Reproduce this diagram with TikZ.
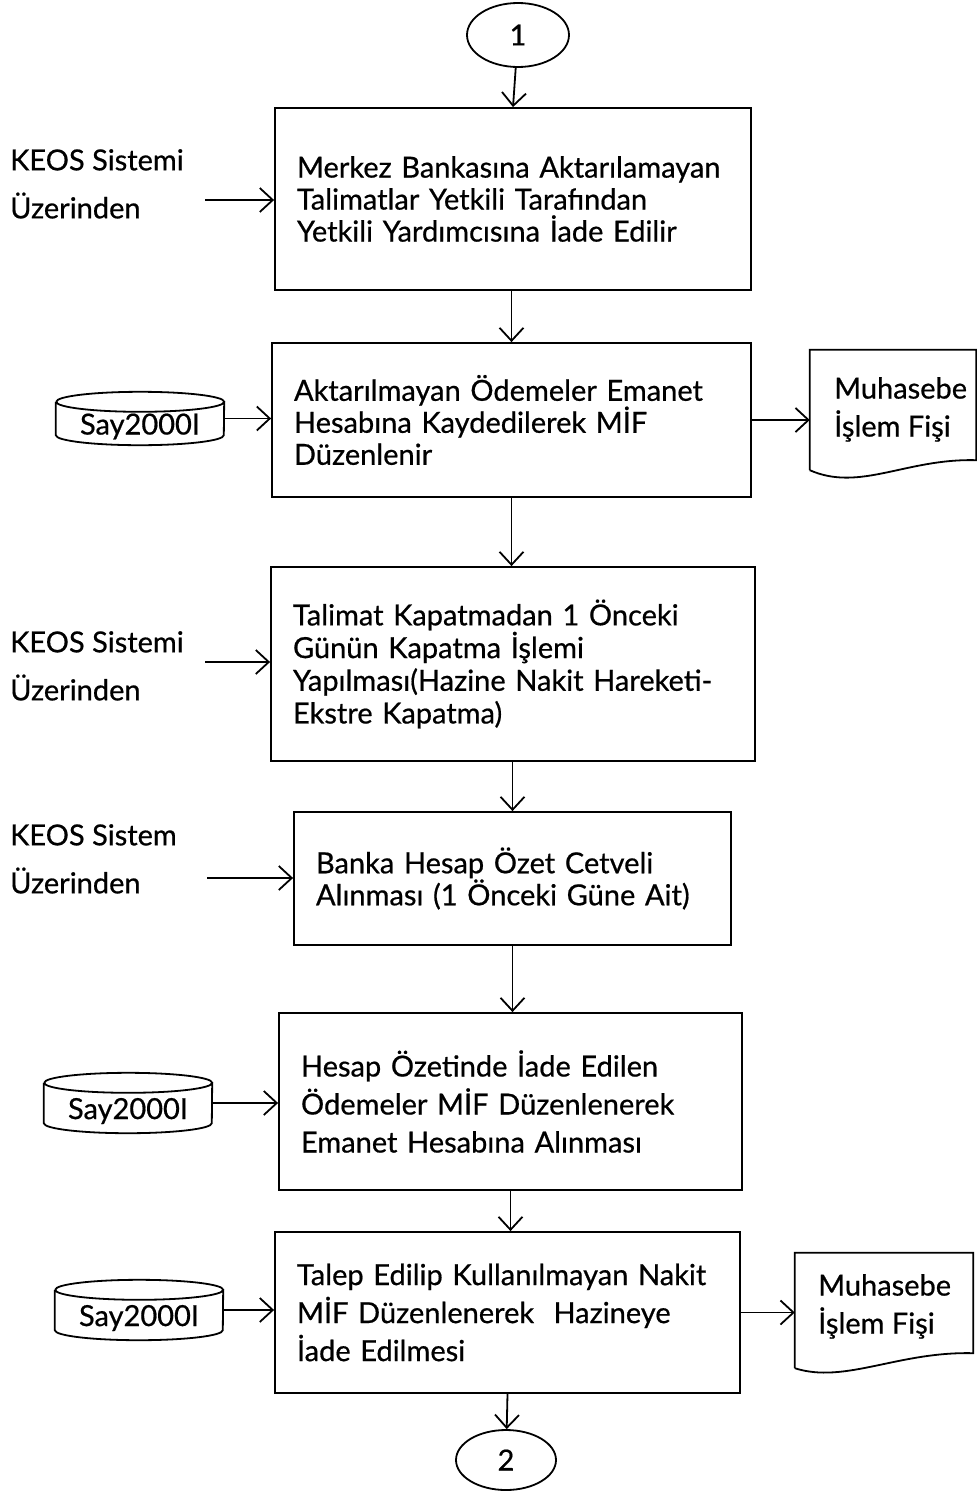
\documentclass[tikz,border=0pt]{standalone}
\usepackage{fontspec}
\setmainfont{Lato}[FakeBold=0.6]
\usetikzlibrary{arrows.meta,shapes.geometric}
\tikzset{
  arr/.style={line width=1.8pt,-{Straight Barb[length=13pt,width=24pt]}},
  boxs/.style={draw,line width=1.8pt,rectangle,inner xsep=22pt,inner ysep=0pt,align=left,font=\fontsize{29}{32}\selectfont},
  lbl/.style={anchor=north west,inner sep=0pt,align=left,font=\fontsize{29}{48}\selectfont},
  circ/.style={draw,ellipse,line width=1.8pt,inner sep=0pt,font=\fontsize{29}{30}\selectfont},
  cyls/.style={inner sep=0pt,minimum width=168pt,font=\fontsize{29}{30}\selectfont},
  docs/.style={inner sep=0pt,font=\fontsize{29}{38}\selectfont},
  shp/.style={line width=1.8pt}
}
\newcommand{\cylshape}[1]{%
  \draw[shp] ([yshift=-10pt]#1.north west) -- ([yshift=10pt]#1.south west)
    arc[start angle=180,end angle=360,x radius=84pt,y radius=10pt]
    -- ([yshift=-10pt]#1.north east)
    arc[start angle=0,end angle=180,x radius=84pt,y radius=10pt]
    arc[start angle=180,end angle=-180,x radius=84pt,y radius=10pt];
}
\begin{document}
\begin{tikzpicture}[x=1pt,y=-1pt]
\useasboundingbox (0,0) rectangle (977,1491);
% connector circles
\node[circ,minimum width=102pt,minimum height=64pt] (c1) at (518,35) {1};
\node[circ,minimum width=100pt,minimum height=60pt] (c2) at (506,1460) {2};
% boxes
\node[boxs,minimum width=476pt,text width=432pt,minimum height=182pt] (b1) at (513,199)
  {Merkez Bankasına Aktarılamayan\\Talimatlar Yetkili Tarafından\\Yetkili Yardımcısına İade Edilir};
\node[boxs,minimum width=479pt,text width=435pt,minimum height=154pt] (b2) at (511.5,420)
  {Aktarılmayan Ödemeler Emanet\\Hesabına Kaydedilerek MİF\\Düzenlenir};
\node[boxs,minimum width=484pt,text width=440pt,minimum height=194pt,font=\fontsize{29}{32.7}\selectfont] (b3) at (513,664)
  {Talimat Kapatmadan 1 Önceki\\Günün Kapatma İşlemi\\Yapılması(Hazine Nakit Hareketi-\\Ekstre Kapatma)};
\node[boxs,minimum width=437pt,text width=393pt,minimum height=133pt] (b4) at (512.5,878.5)
  {Banka Hesap Özet Cetveli\\Alınması (1 Önceki Güne Ait)};
\node[boxs,minimum width=463pt,text width=419pt,minimum height=177pt,font=\fontsize{29}{38}\selectfont] (b5) at (510.5,1101.5)
  {Hesap Özetinde İade Edilen\\Ödemeler MİF Düzenlenerek\\Emanet Hesabına Alınması};
\node[boxs,minimum width=465pt,text width=421pt,minimum height=161pt,font=\fontsize{29}{38}\selectfont] (b6) at (507.5,1312.5)
  {Talep Edilip Kullanılmayan Nakit\\MİF Düzenlenerek\ \ Hazineye\\İade Edilmesi};
% left labels
\node[lbl] (k1) at (10,149) {KEOS Sistemi\\Üzerinden};
\node[lbl] (k2) at (10,631) {KEOS Sistemi\\Üzerinden};
\node[lbl] (k3) at (10,824) {KEOS Sistem\\Üzerinden};
\coordinate (k1e) at (205,200);
\coordinate (k2e) at (205,662);
\coordinate (k3e) at (207,878);
% cylinders
\node[cyls,minimum height=53pt] (y1) at (140,418.5) {};
\node[cyls,minimum height=60pt] (y2) at (128,1103) {};
\node[cyls,minimum height=60pt] (y3) at (139,1310) {};
\cylshape{y1}
\cylshape{y2}
\cylshape{y3}
\node[font=\fontsize{29}{30}\selectfont,inner sep=0pt] (t1) at ([yshift=-8pt]y1.center) {Say2000I};
\node[font=\fontsize{29}{30}\selectfont,inner sep=0pt] (t2) at ([yshift=-8pt]y2.center) {Say2000I};
\node[font=\fontsize{29}{30}\selectfont,inner sep=0pt] (t3) at ([yshift=-8pt]y3.center) {Say2000I};
% documents
\node[docs,minimum width=166pt,minimum height=128pt] (d1) at (893,414) {};
\node[docs,minimum width=178pt,minimum height=119pt] (d2) at (884,1312.5) {};
\draw[shp] ([yshift=8pt]d1.south west) -- (d1.north west) -- (d1.north east) -- ([yshift=18pt]d1.south east)
  .. controls ([xshift=-70pt,yshift=20pt]d1.south east) and ([xshift=50pt,yshift=-14pt]d1.south west) .. ([yshift=8pt]d1.south west);
\draw[shp] ([yshift=4pt]d2.south west) -- (d2.north west) -- (d2.north east) -- ([yshift=19pt]d2.south east)
  .. controls ([xshift=-75pt,yshift=21pt]d2.south east) and ([xshift=50pt,yshift=-12pt]d2.south west) .. ([yshift=4pt]d2.south west);
\node[docs,anchor=north west,align=left] (dt1) at (834,377) {Muhasebe\\İşlem Fişi};
\node[docs,anchor=north west,align=left] (dt2) at (818,1274) {Muhasebe\\İşlem Fişi};
% connectors
\draw[arr] (c1) -- (b1.north);
\draw[arr] (b2.north |- b1.south) -- (b2.north);
\draw[arr] (b2.south) -- (b2.south |- b3.north);
\draw[arr] (b4.north |- b3.south) -- (b4.north);
\draw[arr] (b4.south) -- (b4.south |- b5.north);
\draw[arr] (b5.south) -- (b5.south |- b6.north);
\draw[arr] (b6.south) -- (c2);
\draw[arr] (k1e) -- (k1e -| b1.west);
\draw[arr] (k2e) -- (k2e -| b3.west);
\draw[arr] (k3e) -- (k3e -| b4.west);
\draw[arr] (y1.east) -- (y1.east -| b2.west);
\draw[arr] (y2.east) -- (y2.east -| b5.west);
\draw[arr] (y3.east) -- (y3.east -| b6.west);
\draw[arr] (b2.east) -- (b2.east -| d1.west);
\draw[arr] (b6.east) -- (b6.east -| d2.west);
\end{tikzpicture}
\end{document}
